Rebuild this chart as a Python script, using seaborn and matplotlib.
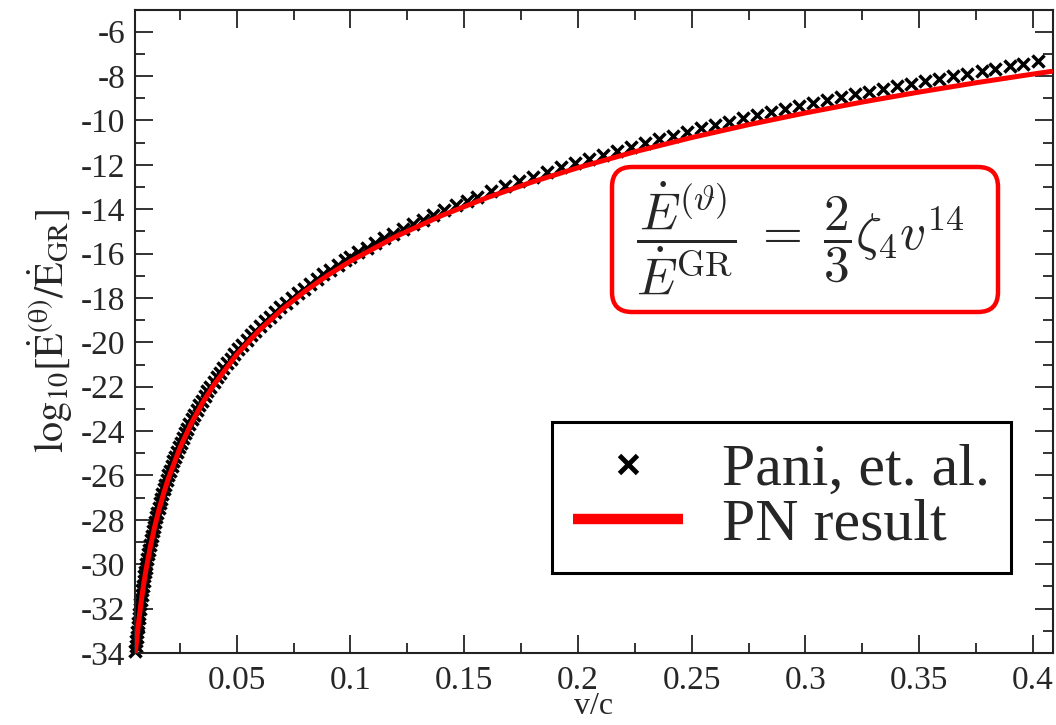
import matplotlib
matplotlib.use('Agg')
import matplotlib.pyplot as plt
import seaborn as sns
from matplotlib.lines import Line2D
from matplotlib.patches import FancyBboxPatch
from matplotlib.transforms import IdentityTransform
from matplotlib.ticker import MultipleLocator

################################################################################
# Data

# Pani et al. markers: v/c and log10 of the flux ratio
pani_v = [
    0.005433, 0.005623, 0.005821, 0.006026, 0.006237, 0.006457, 0.006683, 0.006918,
    0.007161, 0.007413, 0.007674, 0.007943, 0.008222, 0.008511, 0.008811, 0.009120,
    0.009441, 0.009772,
    0.010000, 0.010351, 0.010715, 0.011092, 0.011482, 0.011885, 0.012303, 0.012735,
    0.013183, 0.013646, 0.014125, 0.014622, 0.015136, 0.015668, 0.016218, 0.016788,
    0.017378, 0.017989, 0.018621, 0.019275, 0.019953, 0.020654, 0.021380, 0.022131,
    0.022909, 0.023714, 0.024547, 0.025410, 0.026303, 0.027227, 0.028184, 0.029174,
    0.030200, 0.031261, 0.032359, 0.033497, 0.034674, 0.035892, 0.037154, 0.038459,
    0.039811, 0.041210, 0.042658, 0.044157, 0.045709, 0.047315, 0.048978, 0.050699,
    0.052481, 0.054325, 0.056234, 0.058210, 0.060256, 0.062373, 0.064565, 0.066834,
    0.069183, 0.071614, 0.074131, 0.076736, 0.079433, 0.082224, 0.085114, 0.088105,
    0.091201, 0.094406, 0.097724,
    0.10000, 0.10351, 0.10715, 0.11092, 0.11482, 0.11885, 0.12303, 0.12735,
    0.13183, 0.13646, 0.14125, 0.14622, 0.15136,
    0.1556, 0.1618, 0.1679, 0.1741, 0.1802, 0.1864, 0.1926, 0.1987, 0.2049, 0.2110,
    0.2172, 0.2234, 0.2295, 0.2357, 0.2418, 0.2480, 0.2542, 0.2603, 0.2665, 0.2726,
    0.2788, 0.2850, 0.2911, 0.2973, 0.3034, 0.3096, 0.3158, 0.3219, 0.3281, 0.3342,
    0.3404, 0.3466, 0.3527, 0.3589, 0.3650, 0.3712, 0.3774, 0.3835, 0.3897, 0.3958,
    0.4020,
]
pani_log = [
    -33.90, -33.69, -33.48, -33.27, -33.06, -32.85, -32.64, -32.43,
    -32.22, -32.01, -31.80, -31.59, -31.38, -31.17, -30.96, -30.75,
    -30.54, -30.33,
    -30.19, -29.98, -29.77, -29.56, -29.35, -29.14, -28.93, -28.72,
    -28.51, -28.30, -28.09, -27.88, -27.67, -27.46, -27.25, -27.04,
    -26.83, -26.62, -26.41, -26.20, -25.99, -25.78, -25.57, -25.36,
    -25.15, -24.94, -24.73, -24.52, -24.31, -24.10, -23.89, -23.68,
    -23.47, -23.26, -23.05, -22.84, -22.63, -22.42, -22.21, -22.00,
    -21.79, -21.58, -21.37, -21.16, -20.95, -20.74, -20.53, -20.31,
    -20.10, -19.89, -19.68, -19.47, -19.26, -19.05, -18.84, -18.63,
    -18.42, -18.21, -18.00, -17.79, -17.58, -17.36, -17.15, -16.94,
    -16.73, -16.52, -16.31,
    -16.17, -15.95, -15.74, -15.53, -15.32, -15.11, -14.89, -14.68,
    -14.47, -14.26, -14.04, -13.83, -13.62,
    -13.44, -13.20, -12.97, -12.75, -12.53, -12.32, -12.12, -11.92, -11.73, -11.54,
    -11.36, -11.18, -11.01, -10.85, -10.68, -10.52, -10.36, -10.21, -10.06, -9.91,
    -9.77, -9.63, -9.49, -9.36, -9.22, -9.09, -8.96, -8.83, -8.71, -8.58,
    -8.46, -8.34, -8.23, -8.11, -8.00, -7.89, -7.78, -7.67, -7.56, -7.45,
    -7.34,
]

# PN result curve
pn_v = [
    0.0055, 0.006, 0.007, 0.008, 0.009, 0.010, 0.012, 0.014, 0.016, 0.018,
    0.020, 0.025, 0.030, 0.035, 0.040, 0.050, 0.060, 0.070, 0.080, 0.090,
    0.100, 0.120, 0.140, 0.160, 0.180, 0.200, 0.225, 0.250, 0.275, 0.300,
    0.325, 0.350, 0.375, 0.400, 0.408,
]
pn_log = [
    -33.97, -33.45, -32.51, -31.70, -30.98, -30.34, -29.23, -28.29, -27.48, -26.77,
    -26.13, -24.77, -23.66, -22.72, -21.91, -20.55, -19.45, -18.51, -17.70, -16.98,
    -16.34, -15.23, -14.29, -13.48, -12.77, -12.13, -11.41, -10.77, -10.19, -9.66,
    -9.17, -8.72, -8.30, -7.91, -7.79,
]

x_major = [0.05, 0.1, 0.15, 0.2, 0.25, 0.3, 0.35, 0.4]
x_labels = ['0.05', '0.1', '0.15', '0.2', '0.25', '0.3', '0.35', '0.4']
y_major = list(range(-34, -5, 2))

################################################################################

sns.set_theme(style='ticks')
plt.rcParams['font.family'] = ['Liberation Serif', 'DejaVu Serif']
plt.rcParams['mathtext.fontset'] = 'stix'
plt.rcParams['axes.unicode_minus'] = False

W, H = 1056, 725
fig = plt.figure(figsize=(W / 100, H / 100), dpi=100)
ax = fig.add_axes([135 / W, 1 - 653 / H, (1053 - 135) / W, (653 - 9.5) / H])

sns.scatterplot(x=pani_v, y=pani_log, ax=ax, marker='x', s=75, color='black',
                linewidth=2.5, zorder=2, clip_on=False, legend=False)
sns.lineplot(x=pn_v, y=pn_log, ax=ax, color='red', linewidth=3.6, zorder=3,
             sort=False, estimator=None, legend=False)

ax.set_xlim(0.0053, 0.4088)
ax.set_ylim(-34, -5)
ax.set_xticks(x_major)
ax.set_xticklabels(x_labels)
ax.set_yticks(y_major)
ax.xaxis.set_minor_locator(MultipleLocator(0.025))
ax.yaxis.set_minor_locator(MultipleLocator(1))

for side in ['left', 'right', 'top', 'bottom']:
    ax.spines[side].set_linewidth(1.5)
    ax.spines[side].set_color('#222222')

ax.tick_params(which='both', direction='in', top=True, right=True,
               color='#222222', width=1.3)
ax.tick_params(which='major', length=13, labelsize=24)
ax.tick_params(axis='x', which='major', pad=9)
ax.tick_params(axis='y', which='major', pad=7)
ax.tick_params(which='minor', length=7)

ax.set_xlabel('v/c', fontsize=23, labelpad=-3)
ax.set_ylabel(r'$\mathrm{log}_{10}[\dot{\mathrm{E}}^{(\mathrm{\theta})}/\dot{\mathrm{E}}_{\mathrm{GR}}]$',
              fontsize=29, labelpad=4)

# formula in the rounded red box
box = FancyBboxPatch((612, H - 312), 386, 145,
                     boxstyle='round,pad=0,rounding_size=20',
                     transform=IdentityTransform(), facecolor='white',
                     edgecolor='red', linewidth=3.2, zorder=5)
fig.patches.append(box)
fig.text(800 / W, 1 - 238 / H,
         r'$\dfrac{\dot{E}^{(\vartheta)}}{\dot{E}^{\mathrm{GR}}}\;=\;\dfrac{2}{3}\zeta_4 v^{14}$',
         fontsize=37, ha='center', va='center', math_fontfamily='cm', zorder=6)

handles = [
    Line2D([], [], marker='x', linestyle='none', color='black',
           markersize=13, markeredgewidth=3.5),
    Line2D([], [], color='red', linewidth=7.5, solid_capstyle='butt'),
]
leg = ax.legend(handles, ['Pani, et. al.', 'PN result'],
                loc='upper left', bbox_to_anchor=(552 / W, 1 - 422 / H),
                bbox_transform=fig.transFigure, borderaxespad=0,
                fontsize=43, frameon=True, fancybox=False, framealpha=1,
                edgecolor='black', handlelength=1.85, handletextpad=0.65,
                labelspacing=0.0, borderpad=0.35)
leg.get_frame().set_linewidth(2.2)

fig.savefig('out.png', dpi=100)
